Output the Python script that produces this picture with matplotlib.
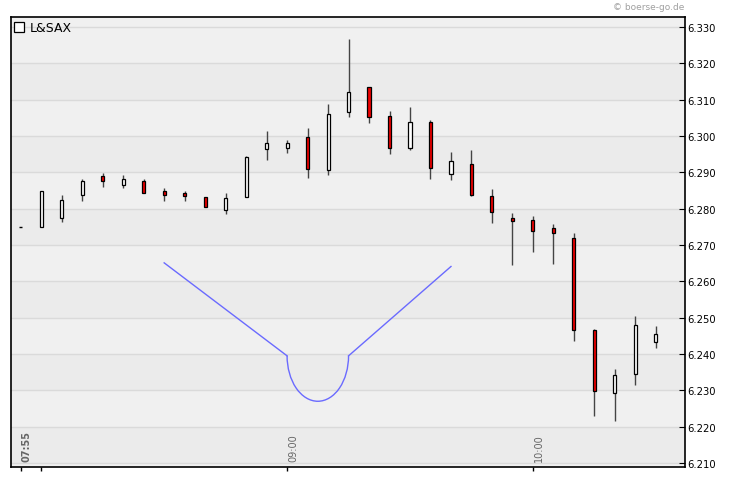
import numpy as np
import matplotlib
matplotlib.use('Agg')
import matplotlib.pyplot as plt
from matplotlib.lines import Line2D
from matplotlib.patches import Arc

# 5-minute candles, L&SAX
times = ['07:55', '08:00', '08:05', '08:10', '08:15', '08:20', '08:25', '08:30',
         '08:35', '08:40', '08:45', '08:50', '08:55', '09:00', '09:05', '09:10',
         '09:15', '09:20', '09:25', '09:30', '09:35', '09:40', '09:45', '09:50',
         '09:55', '10:00', '10:05', '10:10', '10:15', '10:20', '10:25', '10:30']
opens = [6.2750, 6.2750, 6.2775, 6.2838, 6.2891, 6.2866, 6.2877, 6.2849,
         6.2844, 6.2833, 6.2797, 6.2833, 6.2965, 6.2968, 6.2998, 6.2907,
         6.3066, 6.3135, 6.3055, 6.2968, 6.3039, 6.2896, 6.2924, 6.2834,
         6.2775, 6.2770, 6.2748, 6.2720, 6.2465, 6.2292, 6.2344, 6.2434]
closes = [6.2750, 6.2850, 6.2825, 6.2877, 6.2877, 6.2882, 6.2843, 6.2837,
          6.2835, 6.2805, 6.2830, 6.2943, 6.2981, 6.2981, 6.2910, 6.3061,
          6.3121, 6.3053, 6.2968, 6.3039, 6.2913, 6.2932, 6.2838, 6.2791,
          6.2767, 6.2738, 6.2734, 6.2466, 6.2297, 6.2341, 6.2479, 6.2454]
highs = [6.2750, 6.2850, 6.2839, 6.2883, 6.2897, 6.2894, 6.2883, 6.2856,
         6.2848, 6.2833, 6.2842, 6.2946, 6.3015, 6.2988, 6.3023, 6.3087,
         6.3268, 6.3135, 6.3070, 6.3081, 6.3045, 6.2957, 6.2963, 6.2853,
         6.2787, 6.2779, 6.2757, 6.2734, 6.2468, 6.2358, 6.2504, 6.2477]
lows = [6.2750, 6.2750, 6.2763, 6.2821, 6.2859, 6.2857, 6.2843, 6.2821,
        6.2821, 6.2805, 6.2785, 6.2833, 6.2934, 6.2953, 6.2884, 6.2892,
        6.3052, 6.3035, 6.2950, 6.2961, 6.2881, 6.2879, 6.2835, 6.2762,
        6.2644, 6.2681, 6.2648, 6.2436, 6.2230, 6.2216, 6.2315, 6.2417]

# cup pattern drawn on the chart
cup_left_x = [7, 13]
cup_left_y = [6.2651, 6.2395]
cup_right_x = [16, 21]
cup_right_y = [6.2395, 6.2641]
cup_bottom = 6.2270

yticks = [6.21, 6.22, 6.23, 6.24, 6.25, 6.26, 6.27, 6.28, 6.29, 6.30, 6.31, 6.32, 6.33]
label_times = ['07:55', '09:00', '10:00']
tick_times = ['07:55', '08:00', '09:00', '10:00']

fig = plt.figure(figsize=(7.3, 4.81), dpi=100)
ax = fig.add_axes([0.0147, 0.027, 0.923, 0.935])
ax.set_facecolor('#f0f0f0')

ylo, yhi = 6.2089, 6.3327
ax.set_xlim(-0.49, 32.4)
ax.set_ylim(ylo, yhi)

# alternating bands + grid
for k in range(len(yticks) - 1):
    if k % 2 == 0:
        ax.axhspan(yticks[k], yticks[k + 1], color='#ebebeb', lw=0, zorder=0)
for yv in yticks:
    ax.axhline(yv, color='#dadada', lw=1, zorder=1)

x = np.arange(len(times))
w = 0.15
for i in x:
    o, c, h, l = opens[i], closes[i], highs[i], lows[i]
    ax.vlines(i, l, h, color='#444444', lw=1, zorder=2)
    if o == c:
        ax.hlines(o, i - w / 2, i + w / 2, color='black', lw=1, zorder=3)
        continue
    col = 'white' if c > o else '#ee0000'
    ax.bar(i, abs(c - o), bottom=min(o, c), width=w, color=col,
           edgecolor='black', linewidth=0.9, zorder=3)

# cup
blue = '#6a6aff'
ax.plot(cup_left_x, cup_left_y, color=blue, lw=1, zorder=4)
ax.plot(cup_right_x, cup_right_y, color=blue, lw=1, zorder=4)
cx = (cup_left_x[1] + cup_right_x[0]) / 2
ax.add_patch(Arc((cx, cup_left_y[1]), cup_right_x[0] - cup_left_x[1],
                 2 * (cup_left_y[1] - cup_bottom), theta1=180, theta2=360,
                 color=blue, lw=1, zorder=4))

# axes styling
for s in ax.spines.values():
    s.set_color('black')
    s.set_linewidth(1.2)
ax.yaxis.tick_right()
ax.set_yticks(yticks)
ax.set_yticklabels([f'{v:.3f}' for v in yticks])
ax.tick_params(axis='y', direction='in', length=4, pad=2, labelsize=7.2,
               colors='black')
ax.set_xticks([times.index(t) for t in tick_times])
ax.set_xticklabels([])
ax.tick_params(axis='x', direction='out', length=3, width=1)

for t in label_times:
    ax.text(times.index(t) + 0.05, ylo + 0.0016, t, rotation=90, ha='left', va='bottom',
            fontsize=7, color='#666666',
            fontweight='bold' if t == '07:55' else 'normal', zorder=5)

handle = Line2D([], [], marker='s', ls='none', markersize=7,
                markerfacecolor='white', markeredgecolor='black', markeredgewidth=0.9)
ax.legend([handle], ['L&SAX'], loc='upper left', frameon=False, fontsize=9,
          handlelength=0.8, handletextpad=0.4, borderaxespad=0.1, borderpad=0.2)

fig.text(0.937, 0.985, '\u00a9 boerse-go.de', ha='right', va='center',
         fontsize=6.5, color='#a0a0a0')

fig.savefig('out.png', dpi=100)
